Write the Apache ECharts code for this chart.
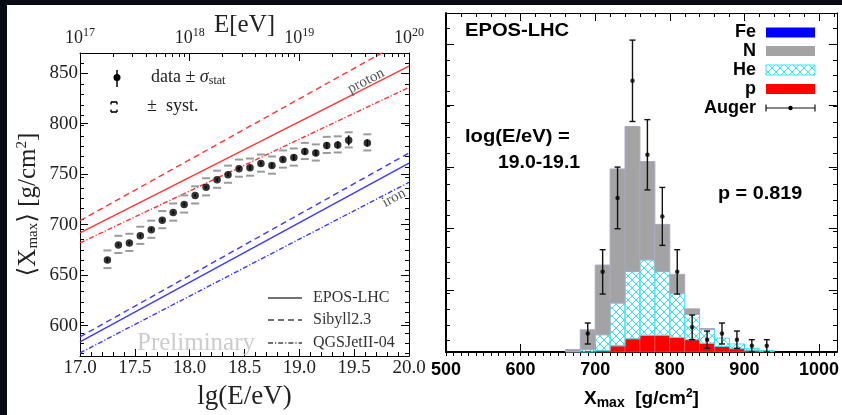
<!DOCTYPE html>
<html><head><meta charset="utf-8">
<script src="https://cdn.jsdelivr.net/npm/echarts@6/dist/echarts.min.js"></script>
<style>
html,body{margin:0;padding:0;background:#070b16;}
#wrap{position:relative;width:842px;height:415px;background:#070b16;overflow:hidden;}
#paper{position:absolute;left:7px;top:5px;right:0;bottom:0;background:#fff;}
#c{position:absolute;left:0;top:0;width:842px;height:415px;}
</style>
</head><body><div id="wrap"><div id="paper"></div><div id="c"></div></div>
<script>
// ---------- Left panel: <Xmax> vs lg(E/eV) ----------
const lgE = [17.25,17.35,17.45,17.55,17.65,17.75,17.85,17.95,18.05,18.15,18.25,18.35,18.45,18.55,18.65,18.75,18.85,18.95,19.05,19.15,19.25,19.35,19.45,19.62];
const xmaxMean = [665,680,682,689,695,704.5,712,720,729,737,744.5,749.5,755.5,756.5,760.5,758.5,764.5,766.5,772.5,771,778.5,779,783.5,781];
const statErr = [2,1.5,1.5,1.5,1.5,1.5,1.5,1.5,1.5,1.5,1.5,1.5,1.5,2,2,2,2,2.5,3,3,3.5,3.5,5,3.5];
const systUp = [9.5,9,9,9,9,9,9,9,9,9,9,9,9,9,9,9,9,9,8.5,8.5,8.5,8.5,8,8.5];
const systDn = [8,8,8,8,8,8,8,8,8,8,8,8,8,8,8,8,8,8,7.5,7.5,7.5,7.5,7,7.5];
const modelLgE = [17, 20];
const protonEPOS = [692, 857];
const protonSibyll = [704, 885];
const protonQGS = [682, 836];
const ironEPOS = [584, 761];
const ironSibyll = [589, 771];
const ironQGS = [573, 742];
const leftYTicks = [600,650,700,750,800,850];
const topExponents = [17,18,19,20];

// ---------- Right panel: Xmax distribution ----------
const binLow = [660,680,700,720,740,760,780,800,820,840,860,880,900,920];
const binWidth = 20;
const pCounts  = [0,0,0.25,1.0,2.15,2.7,2.7,2.35,2.0,1.4,0.9,0.55,0.28,0.12];
const heCounts = [0,0.4,2.55,6.95,10.9,12.25,10.35,7.2,4.1,2.3,1.35,0.75,0.32,0.13];
const nCounts  = [0.4,3.2,11.3,21.75,23.55,15.95,7.65,3.05,0.9,0.1,0,0,0,0];
const feCounts = [0,0,0,0,0,0,0,0,0,0,0,0,0,0];
const augerX = [690,710,730,750,770,790,810,830,850,870,890,910,930];
const augerN = [3,13,25,44,32,22,13,4,2,3,2,1,1];
const augerErr = [1.7,3.6,5.0,6.6,5.7,4.7,3.6,2.0,1.4,1.7,1.4,1.0,1.0];
const rightXTicks = [500,600,700,800,900,1000];
const rightYTicks = [0,10,20,30,40,50];

const SERIF = '"Liberation Serif","DejaVu Serif",serif';
const SANS = '"Liberation Sans",Arial,sans-serif';

function range(a,b,s){const r=[];for(let v=a;v<=b+1e-9;v+=s)r.push(+v.toFixed(6));return r;}
const logMinor=[];topExponents.slice(0,-1).forEach(n=>{for(let k=2;k<=9;k++)logMinor.push(n+Math.log10(k));});

const hatch=document.createElement('canvas');hatch.width=8;hatch.height=8;
(function(){const g=hatch.getContext('2d');g.strokeStyle='#3de3f0';g.lineWidth=1;g.beginPath();g.moveTo(0,0);g.lineTo(8,8);g.moveTo(8,0);g.lineTo(0,8);g.stroke();})();
const hatchPattern={image:hatch,repeat:'repeat'};

const chart=echarts.init(document.getElementById('c'),null,{renderer:'canvas'});

const G0={left:80,right:433,top:53,bottom:51};
const G1={left:446,right:5,top:13,bottom:59};

function ax(o){
  const base={type:'value',splitLine:{show:false},nameMoveOverlap:false,axisLine:{onZero:false,lineStyle:{color:'#000',width:1}},
    axisTick:{inside:true,length:7,lineStyle:{color:'#000'}},axisLabel:{show:false}};
  const r=Object.assign({},base,o);
  r.axisLine=Object.assign({},base.axisLine,o.axisLine||{});
  r.axisTick=Object.assign({},base.axisTick,o.axisTick||{});
  return r;
}

const leftLabel={show:true,fontFamily:SERIF,fontSize:19,color:'#222'};
const rightLabel={show:true,fontFamily:SANS,fontWeight:'bold',fontSize:18,color:'#000'};

const xAxis=[
  ax({gridIndex:0,position:'bottom',min:17,max:20,interval:0.5,
     minorTick:{show:true,splitNumber:5,length:4,lineStyle:{color:'#000'}},
     axisLabel:Object.assign({},leftLabel,{margin:3,formatter:v=>v.toFixed(1)}),
     name:'lg(E/eV)',nameLocation:'middle',nameGap:27,nameTextStyle:{fontFamily:SERIF,fontSize:27,color:'#222'}}),
  ax({gridIndex:0,position:'top',min:17,max:20,
     axisTick:{customValues:topExponents,length:8},
     axisLabel:{show:true,customValues:topExponents,margin:4,formatter:v=>'{b|10}{s|'+v+'}',
       rich:{b:{fontFamily:SERIF,fontSize:18,color:'#222'},s:{fontFamily:SERIF,fontSize:12,color:'#222',padding:[0,0,10,0]}}},
     name:'E[eV]',nameLocation:'middle',nameGap:15,nameTextStyle:{fontFamily:SERIF,fontSize:25,color:'#222'}}),
  ax({gridIndex:2,position:'top',min:17,max:20,axisLine:{show:false},axisTick:{customValues:logMinor,length:4}}),
  ax({gridIndex:1,position:'bottom',min:500,max:1024,axisLine:{lineStyle:{color:'#000',width:2}},
     axisTick:{customValues:rightXTicks,length:8},
     axisLabel:Object.assign({},rightLabel,{customValues:rightXTicks,margin:9,formatter:v=>String(v)}),
     name:'X{sub|max}  [g/cm{sup|2}]',nameLocation:'middle',nameGap:35,
     nameTextStyle:{fontFamily:SANS,fontWeight:'bold',fontSize:19,color:'#000',
       rich:{sub:{fontFamily:SANS,fontWeight:'bold',fontSize:14,padding:[9,0,0,0]},sup:{fontFamily:SANS,fontWeight:'bold',fontSize:12,padding:[0,0,10,0]}}}}),
  ax({gridIndex:1,position:'top',min:500,max:1024,axisTick:{customValues:rightXTicks,length:8}}),
  ax({gridIndex:3,position:'bottom',min:500,max:1024,axisLine:{show:false},axisTick:{customValues:range(500,1020,10),length:4}}),
  ax({gridIndex:3,position:'top',min:500,max:1024,axisLine:{show:false},axisTick:{customValues:range(500,1020,20),length:4}})
];
const yAxis=[
  ax({gridIndex:0,position:'left',min:570,max:870,axisTick:{customValues:leftYTicks,length:8},
     axisLabel:Object.assign({},leftLabel,{customValues:leftYTicks,margin:2}),
     name:'⟨X{sub|max}⟩ [g/cm{sup|2}]',nameLocation:'middle',nameGap:38,
     nameTextStyle:{fontFamily:SERIF,fontSize:25,color:'#222',
       rich:{sub:{fontFamily:SERIF,fontSize:15,color:'#222',padding:[10,0,0,0]},sup:{fontFamily:SERIF,fontSize:15,color:'#222',padding:[0,0,12,0]}}}}),
  ax({gridIndex:0,position:'right',min:570,max:870,axisTick:{customValues:leftYTicks,length:8}}),
  ax({gridIndex:2,position:'left',min:570,max:870,axisLine:{show:false},axisTick:{customValues:range(580,860,10),length:4}}),
  ax({gridIndex:2,position:'right',min:570,max:870,axisLine:{show:false},axisTick:{customValues:range(580,860,10),length:4}}),
  ax({gridIndex:1,position:'left',min:0,max:55,axisLine:{lineStyle:{color:'#000',width:2}},axisTick:{customValues:rightYTicks,length:8}}),
  ax({gridIndex:1,position:'right',min:0,max:55,axisTick:{customValues:rightYTicks,length:8}}),
  ax({gridIndex:3,position:'left',min:0,max:55,axisLine:{show:false},axisTick:{customValues:range(2.5,52.5,2.5),length:4}}),
  ax({gridIndex:3,position:'right',min:0,max:55,axisLine:{show:false},axisTick:{customValues:range(2.5,52.5,2.5),length:4}})
];

function modelLine(vals,color,dash){
  return {type:'line',xAxisIndex:0,yAxisIndex:0,data:modelLgE.map((x,i)=>[x,vals[i]]),symbol:'none',clip:true,
    lineStyle:{color:color,width:1.4,type:dash},silent:true,z:3};
}
const RED='#ff3535', BLUE='#3a3aff';
const DOTDASH=[5,2,1.2,2];

function histSeries(vals,lower,style,z){
  return {type:'custom',xAxisIndex:3,yAxisIndex:4,z:z,
    data:binLow.map((lo,i)=>[lo,lo+binWidth,lower[i],lower[i]+vals[i]]),
    encode:{x:[0,1],y:[2,3]},
    renderItem:function(p,api){
      const lo=api.value(0),hi=api.value(1),b=api.value(2),t=api.value(3);
      if(!(t-b>0))return null;
      const a=api.coord([lo,t]),c=api.coord([hi,b]);
      return {type:'rect',shape:{x:a[0],y:a[1],width:c[0]-a[0],height:c[1]-a[1]},style:style};
    }};
}
const base0=binLow.map(()=>0);
const baseHe=pCounts.slice();
const baseN=pCounts.map((v,i)=>v+heCounts[i]);
const baseFe=baseN.map((v,i)=>v+nCounts[i]);

const series=[
  modelLine(protonEPOS,RED,'solid'),
  modelLine(protonSibyll,RED,[6,4]),
  modelLine(protonQGS,RED,DOTDASH),
  modelLine(ironEPOS,BLUE,'solid'),
  modelLine(ironSibyll,BLUE,[6,4]),
  modelLine(ironQGS,BLUE,DOTDASH),
  {type:'custom',xAxisIndex:0,yAxisIndex:0,z:4,
    data:lgE.map((x,i)=>[x,xmaxMean[i],systUp[i],systDn[i]]),
    renderItem:function(p,api){
      const x=api.value(0),y=api.value(1);
      const u=api.coord([x,y+api.value(2)]),d=api.coord([x,y-api.value(3)]);
      const st={stroke:'#9a9a9a',lineWidth:2};
      return {type:'group',children:[
        {type:'line',shape:{x1:u[0]-4,y1:u[1],x2:u[0]+4,y2:u[1]},style:st},
        {type:'line',shape:{x1:d[0]-4,y1:d[1],x2:d[0]+4,y2:d[1]},style:st}]};
    }},
  {type:'custom',xAxisIndex:0,yAxisIndex:0,z:5,
    data:lgE.map((x,i)=>[x,xmaxMean[i],statErr[i]]),
    renderItem:function(p,api){
      const x=api.value(0),y=api.value(1),e=api.value(2);
      const u=api.coord([x,y+e]),d=api.coord([x,y-e]);
      return {type:'line',shape:{x1:u[0],y1:u[1],x2:d[0],y2:d[1]},style:{stroke:'#000',lineWidth:1.5}};
    }},
  {type:'scatter',xAxisIndex:0,yAxisIndex:0,z:6,symbol:'circle',symbolSize:7.5,
    itemStyle:{color:'#000'},data:lgE.map((x,i)=>[x,xmaxMean[i]])},
  histSeries(pCounts,base0,{fill:'#ff0000',stroke:'#ff5a5a',lineWidth:0.6},3),
  histSeries(heCounts,baseHe,{fill:hatchPattern,stroke:'#3de3f0',lineWidth:1},3),
  histSeries(nCounts,baseN,{fill:'#a3a3a3',stroke:'#a9a9c6',lineWidth:1},3),
  histSeries(feCounts,baseFe,{fill:'#0000ff',stroke:'#0000ff',lineWidth:1},3),
  {type:'custom',xAxisIndex:3,yAxisIndex:4,z:5,
    data:augerX.map((x,i)=>[x,augerN[i],augerErr[i]]),
    renderItem:function(p,api){
      const x=api.value(0),y=api.value(1),e=api.value(2);
      const u=api.coord([x,y+e]),d=api.coord([x,y-e]);
      const st={stroke:'#111',lineWidth:1.4};
      return {type:'group',children:[
        {type:'line',shape:{x1:u[0],y1:u[1],x2:d[0],y2:d[1]},style:st},
        {type:'line',shape:{x1:u[0]-3,y1:u[1],x2:u[0]+3,y2:u[1]},style:st},
        {type:'line',shape:{x1:d[0]-3,y1:d[1],x2:d[0]+3,y2:d[1]},style:st}]};
    }},
  {type:'scatter',xAxisIndex:3,yAxisIndex:4,z:6,symbol:'circle',symbolSize:4.5,itemStyle:{color:'#000'},
    data:augerX.map((x,i)=>[x,augerN[i]])}
];

function txt(x,y,text,o){
  o=o||{};
  return {type:'text',x:x,y:y,rotation:o.rotation||0,scaleX:o.scaleX||1,z:10,
    style:Object.assign({text:text,fill:'#222',fontFamily:SERIF,fontSize:16,align:'left',verticalAlign:'middle'},o.style||{})};
}
function ln(x1,y1,x2,y2,st){return {type:'line',z:10,shape:{x1,y1,x2,y2},style:Object.assign({stroke:'#000',lineWidth:1.4},st||{})};}

const boldS={fontFamily:SANS,fontWeight:'bold',fontSize:18,fill:'#000'};
const graphic=[
  // left legend (top)
  ln(117,70,117,87,{lineWidth:1.5}),
  {type:'circle',z:10,shape:{cx:117,cy:77.5,r:3.5},style:{fill:'#000'}},
  txt(151,77,'data ± {it|σ}{sub|stat}',{style:{fontSize:18,rich:{it:{fontFamily:SERIF,fontSize:18,fontStyle:'italic',fill:'#222'},sub:{fontFamily:SERIF,fontSize:12,fill:'#222',padding:[8,0,0,0]}}}}),
  ln(111,102,117,102,{lineWidth:1.6}),ln(111,112,117,112,{lineWidth:1.6}),
  ln(111,102,111,104.5,{lineWidth:1.4}),ln(117,102,117,104.5,{lineWidth:1.4}),
  ln(111,112,111,109.5,{lineWidth:1.4}),ln(117,112,117,109.5,{lineWidth:1.4}),
  txt(147,106,'±  syst.',{style:{fontSize:18}}),
  // model labels
  txt(366,81,'proton',{rotation:0.48,style:{fontSize:15,fill:'#555',align:'center'}}),
  txt(394,198,'iron',{rotation:0.5,style:{fontSize:15,fill:'#555',align:'center'}}),
  // bottom-right legend
  ln(268,298,302,298,{stroke:'#444',lineWidth:1.4}),
  ln(268,320,302,320,{stroke:'#444',lineWidth:1.4,lineDash:[6,4]}),
  ln(268,343,302,343,{stroke:'#444',lineWidth:1.4,lineDash:DOTDASH}),
  txt(313,298,'EPOS-LHC',{style:{fontSize:16,fill:'#333'}}),
  txt(313,320,'Sibyll2.3',{style:{fontSize:16,fill:'#333'}}),
  txt(313,343,'QGSJetII-04',{style:{fontSize:16,fill:'#333'}}),
  txt(137,343,'Preliminary',{style:{fontSize:25,fill:'#cccccc'}}),
  // right panel texts
  txt(465,31,'EPOS-LHC',{scaleX:1.12,style:boldS}),
  txt(465,137,'log(E/eV) =',{scaleX:1.12,style:boldS}),
  txt(498,163,'19.0-19.1',{scaleX:1.08,style:boldS}),
  txt(718,194,'p = 0.819',{scaleX:1.1,style:boldS}),
  txt(756,32,'Fe',{style:Object.assign({},boldS,{align:'right'})}),
  txt(756,51,'N',{style:Object.assign({},boldS,{align:'right'})}),
  txt(756,70,'He',{style:Object.assign({},boldS,{align:'right'})}),
  txt(756,89,'p',{style:Object.assign({},boldS,{align:'right'})}),
  txt(756,108,'Auger',{style:Object.assign({},boldS,{align:'right'})}),
  {type:'rect',z:10,shape:{x:766,y:27.5,width:49,height:10},style:{fill:'#0000ff'}},
  {type:'rect',z:10,shape:{x:766,y:46,width:49,height:10},style:{fill:'#a3a3a3'}},
  {type:'rect',z:10,shape:{x:766,y:65,width:49,height:10},style:{fill:hatchPattern,stroke:'#3de3f0',lineWidth:1}},
  {type:'rect',z:10,shape:{x:766,y:84,width:49,height:10},style:{fill:'#ff0000'}},
  ln(766,108,815,108,{stroke:'#111',lineWidth:1.2}),
  ln(766,104.5,766,111.5,{stroke:'#111',lineWidth:1.2}),
  ln(815,104.5,815,111.5,{stroke:'#111',lineWidth:1.2}),
  {type:'circle',z:10,shape:{cx:790.5,cy:108,r:2.2},style:{fill:'#000'}}
];

chart.setOption({
  animation:false,
  backgroundColor:'transparent',
  grid:[Object.assign({},G0),Object.assign({},G1),Object.assign({},G0),Object.assign({},G1)],
  xAxis:xAxis,yAxis:yAxis,series:series,graphic:graphic
});
</script></body></html>
